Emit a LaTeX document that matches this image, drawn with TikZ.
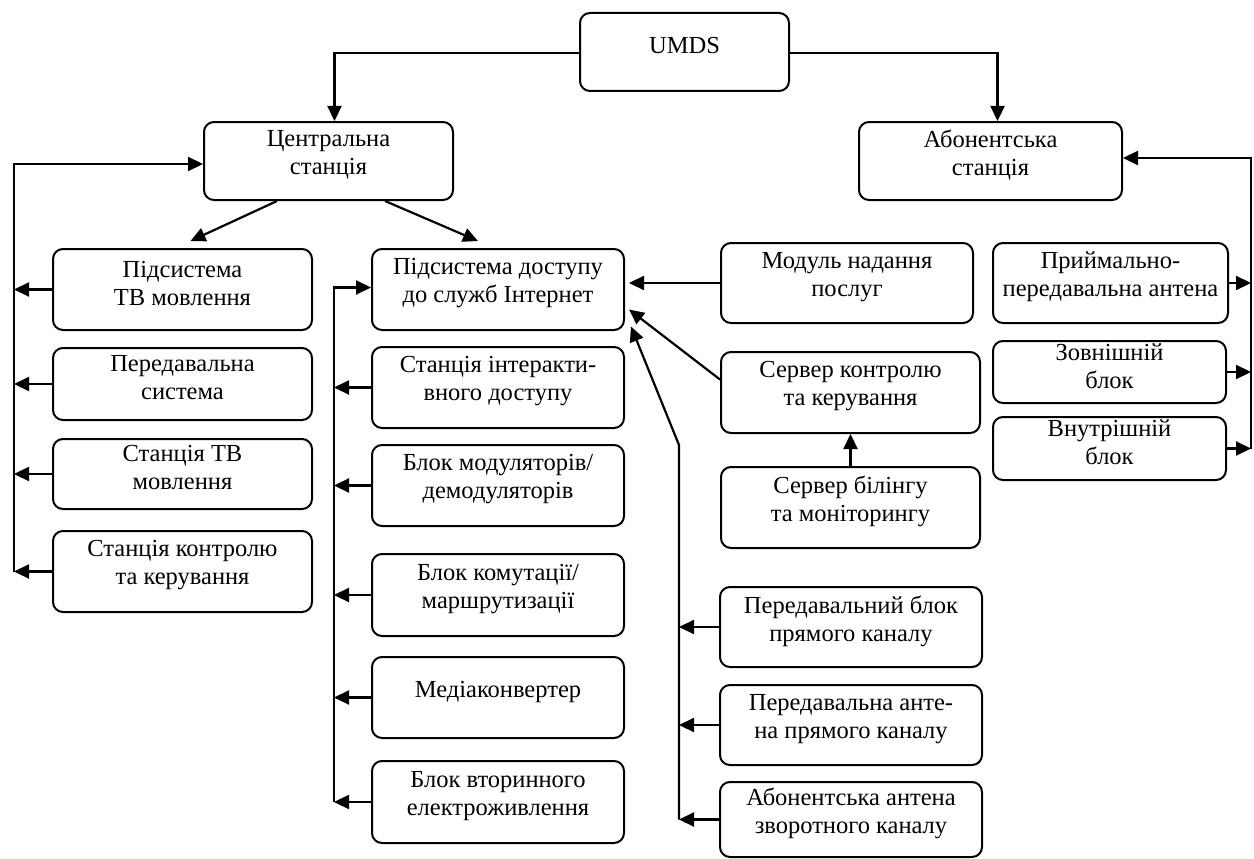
\documentclass[tikz,border=0pt]{standalone}
\usepackage{fontspec}
\setmainfont{Liberation Serif}
\usetikzlibrary{arrows.meta}
\tikzset{
  box/.style={draw, line width=2pt, rounded corners=10pt, inner sep=0pt, fill=white},
  txt/.style={align=center, inner sep=0pt, font=\fontsize{24.5}{28}\selectfont},
  arr/.style={line width=2.2pt, -{Triangle[length=15pt,width=14pt]}},
  ln/.style={line width=2pt}
}
\newcommand\mybox[6]{%
  \pgfmathsetmacro\bw{#4-#2}\pgfmathsetmacro\bh{#5-#3}%
  \pgfmathsetmacro\cx{(#2+#4)/2}\pgfmathsetmacro\cy{(#3+#5)/2}%
  \node[box, minimum width=\bw pt, minimum height=\bh pt] (#1) at (\cx,\cy) {};
  \node[txt] (#1t) at ([yshift=6pt]#1.center) {#6};
}
\begin{document}
\begin{tikzpicture}[x=1pt,y=-1pt]
\useasboundingbox (0,0) rectangle (1254,859);
\fill[white] (0,0) rectangle (1254,859);
% boxes
\mybox{umds}{580}{13}{789}{91}{UMDS}
\mybox{cen}{204}{122}{453}{200}{Центральна\\станція}
\mybox{abo}{859}{122}{1122}{200}{Абонентська\\станція}
\mybox{tv}{53}{249}{312}{330}{Підсистема\\ТВ мовлення}
\mybox{per}{53}{348}{312}{420}{Передавальна\\система}
\mybox{stv}{53}{439}{312}{509}{Станція ТВ\\мовлення}
\mybox{stk}{53}{531}{312}{612}{Станція контролю\\та керування}
\mybox{dos}{372}{249}{624}{330}{Підсистема доступу\\до служб Інтернет}
\mybox{sia}{372}{347}{624}{428}{Станція інтеракти-\\вного доступу}
\mybox{bmd}{372}{445}{624}{526}{Блок модуляторів/\\демодуляторів}
\mybox{bkm}{372}{554}{624}{636}{Блок комутації/\\маршрутизації}
\mybox{med}{372}{657}{624}{738}{Медіаконвертер}
\mybox{bve}{372}{761}{624}{843}{Блок вторинного\\електроживлення}
\mybox{mod}{721}{243}{973}{323}{Модуль надання\\послуг}
\mybox{skk}{721}{352}{980}{433}{Сервер контролю\\та керування}
\mybox{sbm}{721}{467}{980}{548}{Сервер білінгу\\та моніторингу}
\mybox{pbk}{720}{587}{982}{667}{Передавальний блок\\прямого каналу}
\mybox{pap}{720}{685}{982}{765}{Передавальна анте-\\на прямого каналу}
\mybox{aaz}{720}{782}{982}{857}{Абонентська антена\\зворотного каналу}
\mybox{pri}{993}{243}{1228}{323}{Приймально-\\передавальна антена}
\mybox{zov}{993}{341}{1226}{403}{Зовнішній\\блок}
\mybox{vnu}{993}{417}{1226}{480}{Внутрішній\\блок}
% bus coordinates
\coordinate (L) at (14,0);
\coordinate (M) at (334,0);
\coordinate (N) at (679,0);
\coordinate (P) at (1251,0);
\coordinate (bend) at (679,445);
% top connectors
\draw[arr] ([yshift=-1pt]umds.west) -| ([xshift=6pt]cen.north);
\draw[arr] ([yshift=-1pt]umds.east) -| ([xshift=7pt]abo.north);
% from central station
\draw[arr] ([xshift=74pt]cen.south west) -- ([xshift=8pt,yshift=7pt]tv.north);
\draw[arr] ([xshift=-69pt]cen.south east) -- ([xshift=-20pt,yshift=7pt]dos.north);
% left bus
\draw[arr] (L |- stk.west) |- ([yshift=-3pt]cen.west);
\foreach \b in {tv,per,stv,stk} \draw[arr] (\b.west) -- (L |- \b.west);
% middle bus
\draw[arr] (M |- bve.west) |- ([yshift=2pt]dos.west);
\foreach \b in {sia,bmd,bkm,med,bve} \draw[arr] (\b.west) -- (M |- \b.west);
% into internet subsystem
\draw[arr] (mod.west) -- ([xshift=4pt]dos.east |- mod.west);
\draw[arr] ([yshift=13pt]skk.west) -- ([xshift=4pt,yshift=-20pt]dos.east);
\draw[arr] (N |- aaz.west) -- (bend) -- ([xshift=6pt,yshift=-37pt]dos.east);
\foreach \b in {pbk,pap,aaz} \draw[arr] (\b.west) -- (N |- \b.west);
\draw[arr] (sbm.north) -- (skk.south);
% right bus
\draw[arr] (P |- vnu.east) |- ([yshift=3pt]abo.east);
\foreach \b in {pri,zov,vnu} \draw[arr] (\b.east) -- (P |- \b.east);
\end{tikzpicture}
\end{document}
